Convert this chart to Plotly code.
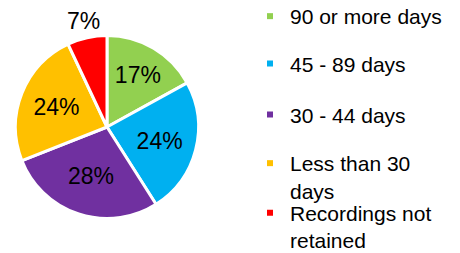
import math
import plotly.graph_objects as go

labels = ["90 or more days", "45 - 89 days", "30 - 44 days", "Less than 30<br>days", "Recordings not<br>retained"]
values = [17, 24, 28, 24, 7]
colors = ["#92D050", "#00B0F0", "#7030A0", "#FFC000", "#FF0000"]
text_pos = ["inside", "inside", "inside", "inside", "none"]

W, H = 460, 253
FONT = "Liberation Sans, Arial, sans-serif"
CX, CY, R = 107, 127, 91.5   # pie centre (px from top-left) and radius

fig = go.Figure()
fig.add_trace(go.Pie(
    labels=labels, values=values, sort=False, direction="clockwise", rotation=0,
    marker=dict(colors=colors, line=dict(color="white", width=3)),
    textinfo="percent", textposition=text_pos, insidetextorientation="horizontal",
    textfont=dict(family=FONT, size=23, color="black"),
    showlegend=False, hoverinfo="label+percent",
    domain=dict(x=[(CX - R) / W, (CX + R) / W], y=[(H - CY - R) / H, (H - CY + R) / H]),
))

# label of the small slice, placed just outside the pie along its mid-angle
total = sum(values)
mid = 2 * math.pi * (sum(values[:-1]) + values[-1] / 2) / total
r_lab = 109
fig.add_annotation(
    x=(CX + r_lab * math.sin(mid)) / W, y=1 - (CY - r_lab * math.cos(mid)) / H,
    xref="paper", yref="paper", xanchor="center", yanchor="middle", showarrow=False,
    text=f"{round(100 * values[-1] / total)}%",
    font=dict(family=FONT, size=23, color="black"),
)

# legend entries (one legend per entry so that each can be placed like the original)
legend_tops_px = [-4.0, 43.4, 94.4, 143.0, 192.7]
layout_legends = {}
for i, (lab, col) in enumerate(zip(labels, colors)):
    key = "legend" if i == 0 else f"legend{i + 1}"
    fig.add_trace(go.Scatter(
        x=[None], y=[None], mode="markers", name=lab,
        marker=dict(symbol="square", size=6, color=col, line=dict(width=0)),
        legend=key, hoverinfo="skip",
    ))
    layout_legends[key] = dict(
        x=250 / W, xanchor="left", y=1 - legend_tops_px[i] / H, yanchor="top",
        font=dict(family=FONT, size=21, color="black"),
        bgcolor="rgba(0,0,0,0)", borderwidth=0, itemwidth=30, valign="top",
        itemclick=False, itemdoubleclick=False,
    )

fig.update_layout(
    width=W, height=H, margin=dict(l=0, r=0, t=0, b=0, autoexpand=False),
    paper_bgcolor="white", plot_bgcolor="white", showlegend=True,
    xaxis=dict(visible=False), yaxis=dict(visible=False),
    font=dict(family=FONT),
    **layout_legends,
)

fig.write_html("out.html", config={"displayModeBar": False},
               post_script="document.body.style.margin='0';")
